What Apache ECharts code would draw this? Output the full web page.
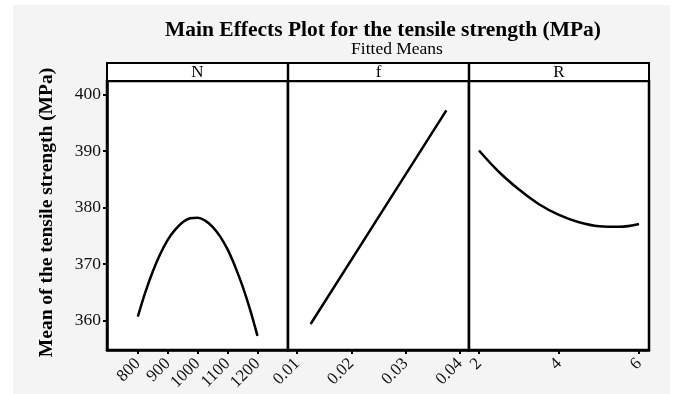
<!DOCTYPE html>
<html>
<head>
<meta charset="utf-8">
<script src="https://cdn.jsdelivr.net/npm/echarts@6/dist/echarts.min.js"></script>
<style>
html,body{margin:0;padding:0;background:#fff;}
#chart{width:675px;height:394px;}
</style>
</head>
<body>
<div id="chart"></div>
<script>
// ---- data ----
const panelNames = ['N', 'f', 'R'];
const nLevels = [800, 825, 850, 875, 900, 925, 950, 975, 1000, 1025, 1050, 1075, 1100, 1125, 1150, 1175, 1200];
const nMeans  = [360.7, 365.0, 368.7, 371.8, 374.3, 376.1, 377.4, 378.1, 378.2, 377.7, 376.6, 374.9, 372.6, 369.6, 366.1, 362.0, 357.3];
const fLevels = [0.0125, 0.025, 0.0375];
const fMeans  = [359.4, 378.3, 397.2];
const rLevels = [2, 2.5, 3, 3.5, 4, 4.5, 5, 5.5, 6];
const rMeans  = [390.1, 386.3, 383.2, 380.6, 378.7, 377.4, 376.7, 376.6, 377.1];
const nTicks = [800, 900, 1000, 1100, 1200];
const fTicks = [0.01, 0.02, 0.03, 0.04];
const rTicks = [2, 4, 6];
const yTicks = [360, 370, 380, 390, 400];

const serif = 'Liberation Serif';
const chart = echarts.init(document.getElementById('chart'));

const plotTop = 81, plotHeight = 269;
const grids = [
  {left: 107, width: 181},
  {left: 288, width: 181},
  {left: 469, width: 180}
];
const xRanges = [[697, 1302], [0.00833, 0.04167], [1.75, 6.25]];
const xTicks = [nTicks, fTicks, rTicks];
const seriesData = [
  nLevels.map((v, i) => [v, nMeans[i]]),
  fLevels.map((v, i) => [v, fMeans[i]]),
  rLevels.map((v, i) => [v, rMeans[i]])
];

const option = {
  animation: false,
  backgroundColor: '#ffffff',
  title: [{
    text: 'Main Effects Plot for the tensile strength (MPa)',
    left: 378, top: 14, textAlign: 'center',
    textStyle: {fontFamily: serif, fontWeight: 'bold', fontSize: 21.5, color: '#000'}
  }, {
    text: 'Fitted Means',
    left: 392, top: 35, textAlign: 'center',
    textStyle: {fontFamily: serif, fontWeight: 'normal', fontSize: 17.5, color: '#000'}
  }],
  graphic: [
    {type: 'rect', z: -10, shape: {x: 13, y: 5, width: 657, height: 389}, style: {fill: '#f4f4f4'}},
    {type: 'rect', z: 10, shape: {x: 107, y: 63, width: 542, height: 18}, style: {fill: '#fff', stroke: '#000', lineWidth: 2}},
    {type: 'line', z: 11, shape: {x1: 288, y1: 63, x2: 288, y2: 81}, style: {stroke: '#000', lineWidth: 2.5}},
    {type: 'line', z: 11, shape: {x1: 469, y1: 63, x2: 469, y2: 81}, style: {stroke: '#000', lineWidth: 2.5}},
    ...panelNames.map((nm, i) => ({
      type: 'text', z: 12,
      style: {text: nm, x: grids[i].left + grids[i].width / 2, y: 72.5, textAlign: 'center', textVerticalAlign: 'middle',
              fontFamily: serif, fontSize: 17, fill: '#000'}
    }))
  ],
  grid: grids.map(g => ({left: g.left, width: g.width, top: plotTop, height: plotHeight,
    show: true, backgroundColor: '#fff', borderColor: '#000', borderWidth: 2.5})),
  xAxis: grids.map((g, i) => ({
    type: 'value', gridIndex: i, min: xRanges[i][0], max: xRanges[i][1],
    splitLine: {show: false},
    axisLine: {show: true, lineStyle: {color: '#000', width: 2.5}},
    axisTick: {show: true, customValues: xTicks[i], length: 4, lineStyle: {color: '#000', width: 2}},
    axisLabel: {customValues: xTicks[i], rotate: 45, margin: 11, fontFamily: serif, fontSize: 17, color: '#111',
                formatter: v => String(v)}
  })),
  yAxis: grids.map((g, i) => ({
    type: 'value', gridIndex: i, min: 354.8, max: 402.4,
    splitLine: {show: false},
    name: i === 0 ? 'Mean of the tensile strength (MPa)' : '',
    nameLocation: 'middle', nameGap: 50,
    nameTextStyle: {fontFamily: serif, fontWeight: 'bold', fontSize: 19.5, color: '#000', padding: [0, 0, 0, 6]},
    axisLine: {show: i === 0, lineStyle: {color: '#000', width: 2.5}},
    axisTick: {show: i === 0, customValues: yTicks, length: 4, lineStyle: {color: '#000', width: 2}},
    axisLabel: {show: i === 0, customValues: yTicks, margin: 6, fontFamily: serif, fontSize: 17.5, color: '#111'}
  })),
  series: seriesData.map((d, i) => ({
    type: 'line', xAxisIndex: i, yAxisIndex: i, data: d,
    smooth: i === 1 ? false : 0.4, showSymbol: false, symbol: 'none',
    lineStyle: {color: '#000', width: 2.5}
  }))
};
chart.setOption(option);
</script>
</body>
</html>
